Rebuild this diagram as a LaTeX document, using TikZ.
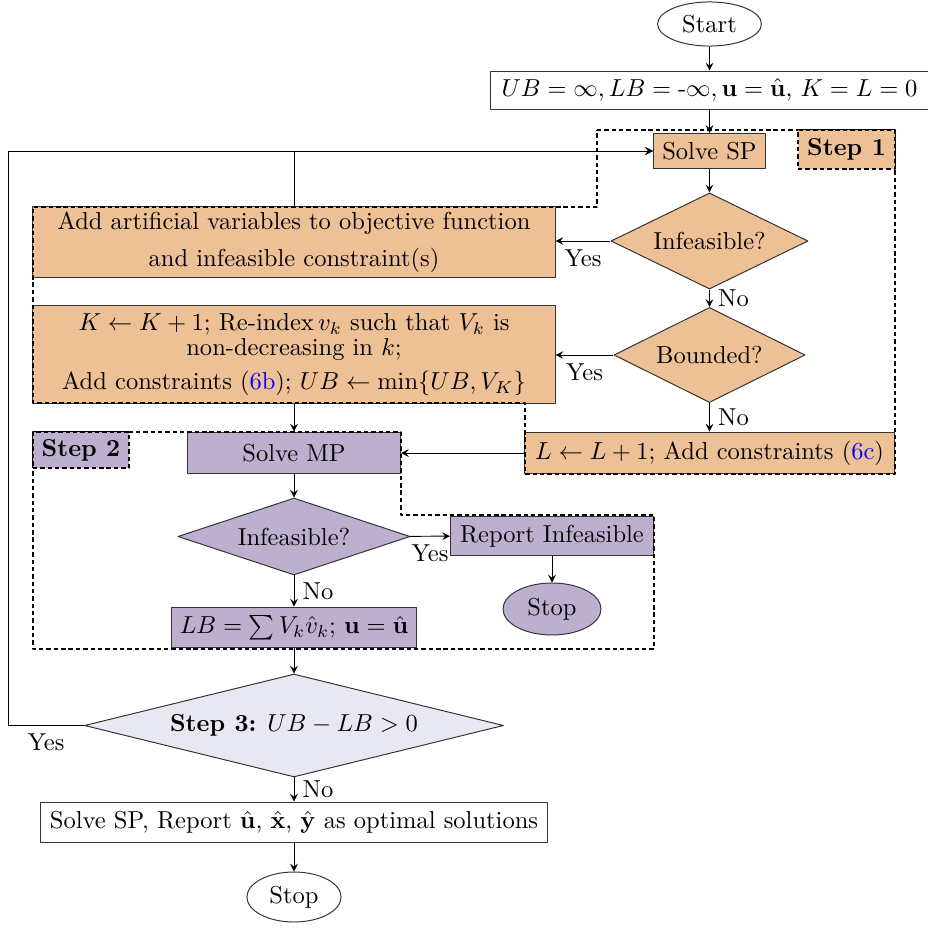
\documentclass[tikz,border=0pt]{standalone}
\usepackage{amsmath, amssymb, bm}
\usepackage{tikz}
\usetikzlibrary{arrows,positioning,calc,shapes}

\definecolor{spcol}{HTML}{EDC096}
\definecolor{mpcol}{HTML}{BDB0CF}
\definecolor{chkcol}{HTML}{E8E8F2}

\begin{document}
\begin{tikzpicture}[x=0.408pt, y=-0.408pt, >=stealth, line join=round,
  box/.style={draw=black!80, rectangle, align=center, inner sep=2pt},
  dec/.style={draw=black!80, diamond, aspect=2, inner sep=0pt, align=center},
  term/.style={draw=black!80, ellipse, inner sep=1pt},
  steplbl/.style={draw=black, line width=1.1pt, dash pattern=on 1.8pt off 1.2pt, inner sep=1pt},
  outl/.style={line width=1.2pt, dash pattern=on 1.8pt off 1.2pt}]
\useasboundingbox (0,0) rectangle (928,929);
\node[term, minimum width=42.4pt, minimum height=18pt] (start) at (709.5,24) {Start};
\node[box, minimum width=178.7pt, minimum height=15.5pt] (init) at (709.5,90) {$UB=\infty, LB=\mbox{-}\infty, \mathbf{u}=\hat{\mathbf{u}}$, $K=L=0$};
\node[box, fill=spcol, minimum width=45.7pt, minimum height=14.3pt] (sp) at (709.5,151) {Solve SP};
\node[dec, fill=spcol, minimum width=80.4pt, minimum height=39.2pt] (inf1) at (709.5,241) {Infeasible?};
\node[dec, fill=spcol, minimum width=78pt, minimum height=38.8pt] (bnd) at (709.5,355) {Bounded?};
\node[box, fill=spcol, minimum width=213pt, minimum height=28.6pt] (art) at (294,242) {Add artificial variables to objective function\\[3pt] and infeasible constraint(s)};
\node[box, fill=spcol, minimum width=213pt, minimum height=39.6pt] (kbox) at (294,354.5) {$K\leftarrow K+1$; Re-index\,$v_k$ such that $V_k$ is\\[-2pt] non-decreasing in $k$;\\[2pt] Add constraints (\textcolor{blue}{6b}); $UB\leftarrow\min\{UB,V_K\}$};
\node[box, fill=spcol, minimum width=151pt, minimum height=17.1pt] (lbox) at (709.5,453) {$L\leftarrow L+1$; Add constraints (\textcolor{blue}{6c})};
\node[box, fill=mpcol, minimum width=86.9pt, minimum height=17.1pt] (mp) at (294,453) {Solve MP};
\node[dec, aspect=3, fill=mpcol, minimum width=94.7pt, minimum height=31.4pt] (inf2) at (294,536.5) {Infeasible?};
\node[box, fill=mpcol, minimum width=82.8pt, minimum height=16.3pt] (rep) at (552,536) {Report Infeasible};
\node[term, fill=mpcol, minimum width=40pt, minimum height=21.2pt] (stop1) at (552,609) {Stop};
\node[box, fill=mpcol, minimum width=100pt, minimum height=16.7pt] (lb) at (294,627.5) {$LB=\sum V_k\hat{v}_k$; $\mathbf{u}=\hat{\mathbf{u}}$};
\node[dec, aspect=4.07, fill=chkcol, minimum width=171pt, minimum height=42pt] (chk) at (294,725.5) {\textbf{Step 3:} $UB-LB>0$};
\node[box, minimum width=207pt, minimum height=16.7pt] (fin) at (294,822.5) {Solve SP, Report $\hat{\mathbf{u}}$, $\hat{\mathbf{x}}$, $\hat{\mathbf{y}}$ as optimal solutions};
\node[term, minimum width=38.4pt, minimum height=20.4pt] (stop2) at (294,897) {Stop};
\coordinate (back) at (8,151);

\draw[->] (start) -- (init);
\draw[->] (init) -- (sp);
\draw[->] (sp) -- (inf1);
\draw[->] (inf1.west) -- node[below]{Yes} (inf1.west -| art.east);
\draw[->] (inf1) -- node[right]{No} (bnd);
\draw[->] (bnd.west) -- node[below]{Yes} (bnd.west -| kbox.east);
\draw[->] (bnd) -- node[right]{No} (lbox);
\draw[->] (art.north) |- (sp.west);
\draw[->] (kbox) -- (mp);
\draw[->] (lbox) -- (mp);
\draw[->] (mp) -- (inf2);
\draw[->] (inf2) -- node[below]{Yes} (rep);
\draw[->] (rep) -- (stop1);
\draw[->] (inf2) -- node[right]{No} (lb);
\draw[->] (lb) -- (chk);
\draw[->] (chk) -- node[right]{No} (fin);
\draw[->] (fin) -- (stop2);
\draw[->] (chk.west) -| node[pos=0.25,below]{Yes} (back) -- (sp.west);

\draw[outl] (597,130) -- (895,130) -- (895,474) -- (525,474) -- (525,403) -- (33,403) -- (33,207) -- (597,207) -- cycle;
\draw[outl] (33,432) -- (401,432) -- (401,515) -- (654,515) -- (654,649) -- (33,649) -- cycle;
\node[steplbl, fill=spcol, minimum width=39.6pt, minimum height=15.9pt] (lbl1) at (846.5,149.5) {\textbf{Step 1}};
\node[steplbl, fill=mpcol, minimum width=39.2pt, minimum height=14.7pt] (lbl2) at (81,450) {\textbf{Step 2}};
\end{tikzpicture}
\end{document}
